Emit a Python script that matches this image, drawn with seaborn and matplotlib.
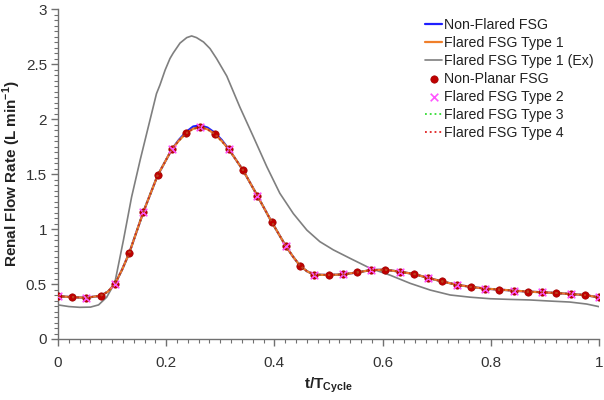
import numpy as np
import matplotlib
matplotlib.use("Agg")
import matplotlib.pyplot as plt
from matplotlib.ticker import MultipleLocator, FuncFormatter
import seaborn as sns

# ---- data ----
# sampled points (markers)
t_cycle = [i / 38 for i in range(39)]
flow_fsg = [0.39, 0.38, 0.375, 0.394, 0.50, 0.78, 1.157, 1.488, 1.725, 1.87,
            1.925, 1.864, 1.725, 1.534, 1.303, 1.066, 0.845, 0.666, 0.585, 0.582,
            0.587, 0.605, 0.627, 0.63, 0.612, 0.591, 0.555, 0.523, 0.493, 0.474,
            0.458, 0.449, 0.44, 0.431, 0.425, 0.418, 0.409, 0.40, 0.378]
# extra curve points read between the markers (for the smooth lines)
t_extra = [0.0921, 0.1184, 0.2237, 0.25, 0.2763, 0.3026, 0.4342, 0.4605]
flow_fsg_extra = [0.43, 0.63, 1.805, 1.912, 1.907, 1.80, 0.75, 0.615]
flow_nonflared_extra = [0.43, 0.63, 1.812, 1.932, 1.922, 1.81, 0.75, 0.615]
nonflared_peak_t = [0.2368, 0.2632, 0.2895]
nonflared_peak_v = [1.882, 1.942, 1.876]

t_ex = [0.0, 0.02, 0.04, 0.06, 0.075, 0.09, 0.105, 0.121, 0.136, 0.152, 0.167,
        0.182, 0.1885, 0.198, 0.207, 0.213, 0.2255, 0.238, 0.247, 0.256, 0.269,
        0.281, 0.293, 0.312, 0.336, 0.361,
        0.386, 0.41, 0.435, 0.46, 0.484, 0.509, 0.54, 0.577, 0.614, 0.651,
        0.688, 0.725, 0.762, 0.799, 0.835, 0.872, 0.909, 0.946, 0.977, 1.0]
flow_ex = [0.31, 0.295, 0.288, 0.29, 0.31, 0.38, 0.51, 0.9, 1.29, 1.63, 1.93,
           2.23, 2.31, 2.445, 2.55, 2.60, 2.69, 2.74, 2.755, 2.74, 2.70,
           2.64, 2.55, 2.39, 2.11, 1.84,
           1.566, 1.325, 1.14, 0.99, 0.885, 0.81, 0.733, 0.643, 0.58, 0.506,
           0.445, 0.40, 0.38, 0.366, 0.36, 0.355, 0.345, 0.336, 0.318, 0.294]

series_labels = ["Non-Flared FSG", "Flared FSG Type 1", "Flared FSG Type 1 (Ex)",
                 "Non-Planar FSG", "Flared FSG Type 2", "Flared FSG Type 3",
                 "Flared FSG Type 4"]
x_ticks = [0, 0.2, 0.4, 0.6, 0.8, 1.0]
y_ticks = [0, 0.5, 1.0, 1.5, 2.0, 2.5, 3.0]

# combined smooth-line tables
line_t = t_cycle + t_extra
line_fsg = flow_fsg + flow_fsg_extra
order = np.argsort(line_t)
line_t = [line_t[i] for i in order]
line_fsg = [line_fsg[i] for i in order]
nf = dict(zip(t_cycle + t_extra, flow_fsg + flow_nonflared_extra))
for tt, vv in zip(nonflared_peak_t, nonflared_peak_v):
    for k in list(nf):
        if abs(k - tt) < 1e-3:
            nf[k] = vv
line_nonflared = [nf[k] for k in line_t]

sns.set_style("ticks")
plt.rcParams["font.family"] = ["Liberation Sans", "DejaVu Sans"]
plt.rcParams["mathtext.fontset"] = "custom"
plt.rcParams["mathtext.rm"] = "Liberation Sans"
plt.rcParams["mathtext.bf"] = "Liberation Sans:bold"

fig = plt.figure(figsize=(6.04, 4.0), dpi=100)
ax = fig.add_axes([58 / 604, 1 - 339 / 400, 541 / 604, 330 / 400])

sns.lineplot(x=line_t, y=line_nonflared, ax=ax, color="#1f1fff", linewidth=1.6,
             label=series_labels[0], zorder=2)
sns.lineplot(x=line_t, y=line_fsg, ax=ax, color="#f07f2a", linewidth=1.6,
             label=series_labels[1], zorder=3)
sns.lineplot(x=t_ex, y=flow_ex, ax=ax, color="#7f7f7f", linewidth=1.2,
             label=series_labels[2], zorder=2)
sns.scatterplot(x=t_cycle, y=flow_fsg, ax=ax, marker="o", s=28, color="#c00000",
                edgecolor="#a00000", linewidth=0.5, label=series_labels[3], zorder=4)
sns.scatterplot(x=t_cycle[::2], y=flow_fsg[::2], ax=ax, marker="x", s=30,
                color="#ff55ff", linewidth=1.2, label=series_labels[4], zorder=5)
sns.lineplot(x=line_t, y=line_fsg, ax=ax, color="#33dd33", linewidth=1.3,
             linestyle=":", label=series_labels[5], zorder=6)
sns.lineplot(x=line_t, y=line_fsg, ax=ax, color="#e02020", linewidth=1.3,
             linestyle=":", label=series_labels[6], zorder=7)

ax.set_xlim(0, 1)
ax.set_ylim(0, 3)
ax.set_xticks(x_ticks)
ax.set_yticks(y_ticks)
ax.xaxis.set_minor_locator(MultipleLocator(0.02))
ax.yaxis.set_minor_locator(MultipleLocator(0.05))
fmt = FuncFormatter(lambda v, p: f"{v:g}")
ax.xaxis.set_major_formatter(fmt)
ax.yaxis.set_major_formatter(fmt)

sns.despine(ax=ax)
for s in ["left", "bottom"]:
    ax.spines[s].set_color("#707070")
    ax.spines[s].set_linewidth(1.0)
ax.tick_params(which="major", length=5, width=1.0, color="#707070",
               labelsize=11, labelcolor="#333333")
ax.tick_params(axis="x", which="major", pad=7)
ax.tick_params(axis="y", which="major", pad=3)
ax.tick_params(which="minor", length=3, width=0.8, color="#707070")

ax.set_xlabel(r"t/T$_{\mathbf{Cycle}}$", fontsize=11, fontweight="bold",
              color="#222222")
ax.xaxis.set_label_coords(0.5, -(385 - 339) / 330 + 0.0)
ax.xaxis.label.set_va("center")
ax.set_ylabel(r"Renal Flow Rate (L min$^{\mathbf{-1}}$)", fontsize=11,
              fontweight="bold", color="#222222")
ax.yaxis.set_label_coords(-(58 - 23) / 541, 0.5)

leg = ax.legend(loc="upper left", bbox_to_anchor=(425 / 604, 1 - 18 / 400),
                bbox_transform=fig.transFigure, frameon=False, fontsize=10.2,
                handlelength=1.2, handletextpad=0.15, labelspacing=0.28,
                borderpad=0, borderaxespad=0)
for txt in leg.get_texts():
    txt.set_color("#222222")

fig.savefig("out.png", dpi=100)
